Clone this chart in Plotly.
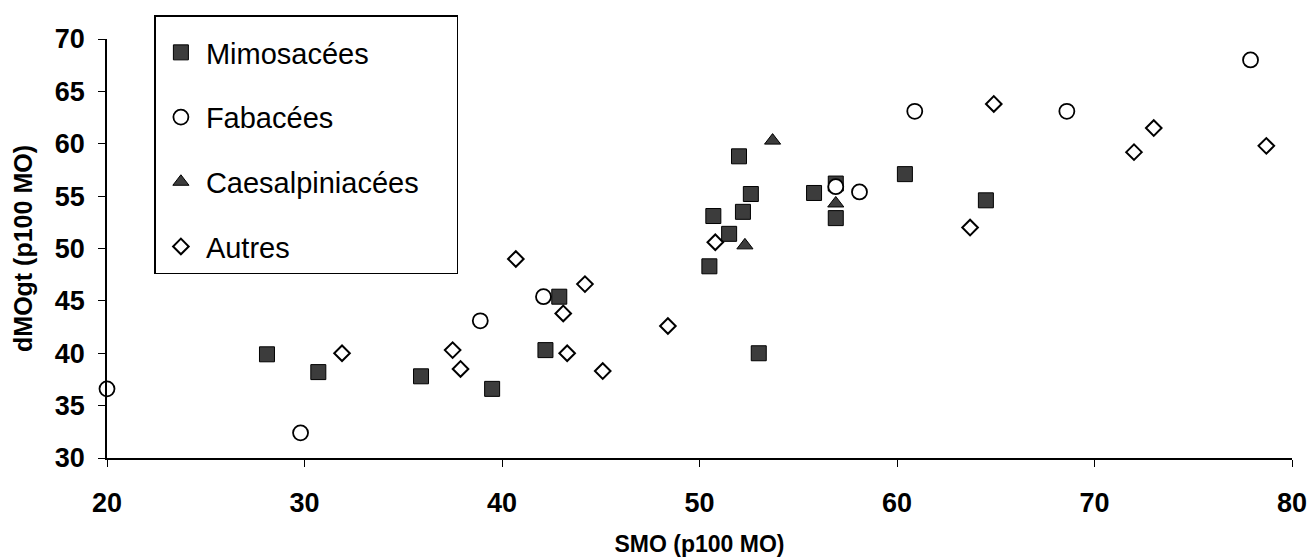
import plotly.graph_objects as go

# Mimosacées (squares)
mimo_x = [28.1, 30.7, 35.9, 39.5, 42.2, 42.9, 50.5, 50.7, 51.5, 52.0, 52.2, 52.6, 53.0, 55.8, 56.9, 56.9, 60.4, 64.5]
mimo_y = [39.9, 38.2, 37.8, 36.6, 40.3, 45.4, 48.3, 53.1, 51.4, 58.8, 53.5, 55.2, 40.0, 55.3, 56.2, 52.9, 57.1, 54.6]

# Fabacées (circles)
faba_x = [20.0, 29.8, 38.9, 42.1, 56.9, 58.1, 60.9, 68.6, 77.9]
faba_y = [36.6, 32.4, 43.1, 45.4, 55.9, 55.4, 63.1, 63.1, 68.0]

# Caesalpiniacées (triangles)
caes_x = [52.3, 53.7, 56.9]
caes_y = [50.3, 60.3, 54.3]

# Autres (diamonds)
autr_x = [31.9, 37.5, 37.9, 40.7, 43.1, 43.3, 44.2, 45.1, 48.4, 50.8, 63.7, 64.9, 72.0, 73.0, 78.7]
autr_y = [40.0, 40.3, 38.5, 49.0, 43.8, 40.0, 46.6, 38.3, 42.6, 50.6, 52.0, 63.8, 59.2, 61.5, 59.8]

x_ticks = [20, 30, 40, 50, 60, 70, 80]
y_ticks = [30, 35, 40, 45, 50, 55, 60, 65, 70]

FONT = "Liberation Sans, Arial, sans-serif"

fig = go.Figure()
fig.add_trace(go.Scatter(
    x=mimo_x, y=mimo_y, mode="markers", name="Mimosacées", legendgroup="a",
    marker=dict(symbol="square", size=15, color="#3c3c3c", line=dict(color="black", width=1)),
    cliponaxis=False))
fig.add_trace(go.Scatter(
    x=faba_x, y=faba_y, mode="markers", name="Fabacées", legendgroup="b",
    marker=dict(symbol="circle", size=15, color="white", line=dict(color="black", width=1.8)),
    cliponaxis=False))
fig.add_trace(go.Scatter(
    x=caes_x, y=caes_y, mode="markers", name="Caesalpiniacées\u00a0\u00a0\u00a0\u00a0", legendgroup="c",
    marker=dict(symbol="triangle-up", size=14, color="#3c3c3c", line=dict(color="black", width=1)),
    cliponaxis=False))
fig.add_trace(go.Scatter(
    x=autr_x, y=autr_y, mode="markers", name="Autres", legendgroup="d",
    marker=dict(symbol="diamond", size=12, color="white", line=dict(color="black", width=2)),
    cliponaxis=False))

axis_common = dict(
    showgrid=False, zeroline=False, showline=True, linecolor="black", linewidth=1.5,
    ticks="outside", ticklen=7, tickwidth=1.2, tickcolor="black", automargin=False,
    tickfont=dict(family=FONT, size=27, color="black", weight="bold"),
)

fig.update_layout(
    width=1313, height=557,
    margin=dict(l=107, r=21, t=39, b=99),
    plot_bgcolor="white", paper_bgcolor="white",
    font=dict(family=FONT, color="black"),
    xaxis=dict(range=[20, 80], tickvals=x_ticks, ticktext=[str(v) for v in x_ticks],
               ticklabelstandoff=13,
               title=dict(text="SMO (p100 MO)", font=dict(family=FONT, size=23, weight="bold"), standoff=22),
               **axis_common),
    yaxis=dict(range=[30, 70], tickvals=y_ticks, ticktext=[str(v) for v in y_ticks],
               ticklabelstandoff=8,
               title=dict(text="dMOgt (p100 MO)", font=dict(family=FONT, size=25, weight="bold"), standoff=15),
               **axis_common),
    legend=dict(
        x=0.04, y=1.057, xanchor="left", yanchor="top",
        bgcolor="white", bordercolor="black", borderwidth=1.5,
        font=dict(family=FONT, size=29, color="black"),
        title=dict(text="\u00a0", font=dict(size=8)),
        tracegroupgap=24, itemwidth=40,
    ),
    showlegend=True,
)

fig.write_html("out.html", config={"displayModeBar": False},
               post_script="document.body.style.margin='0px';")
